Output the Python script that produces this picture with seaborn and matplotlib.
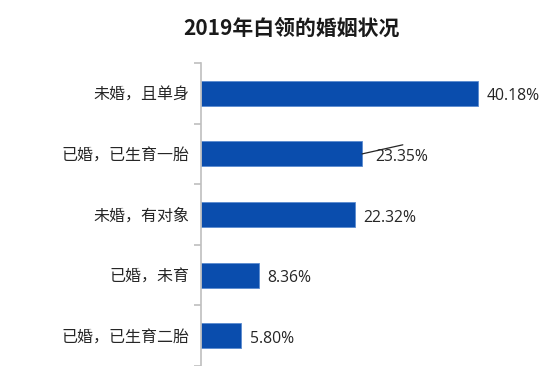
import pandas as pd
import seaborn as sns
import matplotlib.pyplot as plt
from matplotlib.ticker import FixedLocator

categories = ['未婚，且单身', '已婚，已生育一胎', '未婚，有对象', '已婚，未育', '已婚，已生育二胎']
shares = [40.18, 23.35, 22.32, 8.36, 5.80]
value_labels = ['40.18%', '23.35%', '22.32%', '8.36%', '5.80%']

frame = pd.DataFrame({'status': categories, 'share': shares})

sns.set_style('white')
plt.rcParams['font.family'] = ['Noto Sans CJK SC', 'DejaVu Sans']

fig = plt.figure(figsize=(5.54, 3.66), dpi=100)
ax = fig.add_axes([201 / 554, 0.0, 345 / 554, 1 - 63 / 366])

sns.barplot(data=frame, x='share', y='status', order=categories,
            color='#0A4DAD', width=0.41, saturation=1,
            edgecolor='#5B8BD0', linewidth=0.6, ax=ax)

ax.set_xlim(0, 50)
ax.set_ylim(4.5, -0.5)

# labels right of the bars
for i, (v, lab) in enumerate(zip(shares, value_labels)):
    dx = 1.85 if i == 1 else 1.25
    ax.text(v + dx, i + 0.05, lab, va='center', ha='left',
            fontsize=11.3, color='#262626',
            family=['Open Sans', 'Noto Sans CJK SC'])

# the stray leader line on the second label
ax.plot([shares[1], shares[1] + 5.9], [1.0, 0.85], color='#262626', lw=0.9,
        clip_on=False)

for side in ['top', 'right', 'bottom']:
    ax.spines[side].set_visible(False)
ax.spines['left'].set_color('#BFBFBF')
ax.spines['left'].set_linewidth(1.2)

ax.set_xticks([])
ax.set_xlabel('')
ax.set_ylabel('')
ax.tick_params(axis='y', which='major', left=False, length=0, pad=8,
               labelsize=11.5, labelcolor='#262626')
ax.yaxis.set_minor_locator(FixedLocator([-0.5, 0.5, 1.5, 2.5, 3.5, 4.5]))
ax.tick_params(axis='y', which='minor', left=True, length=5, width=1.2,
               color='#BFBFBF', direction='out')

fig.text(0.527, 1 - 28 / 366, '2019年白领的婚姻状况', ha='center', va='center',
         fontsize=15, fontweight='bold', color='#1a1a1a')

plt.savefig('out.png', dpi=100)
